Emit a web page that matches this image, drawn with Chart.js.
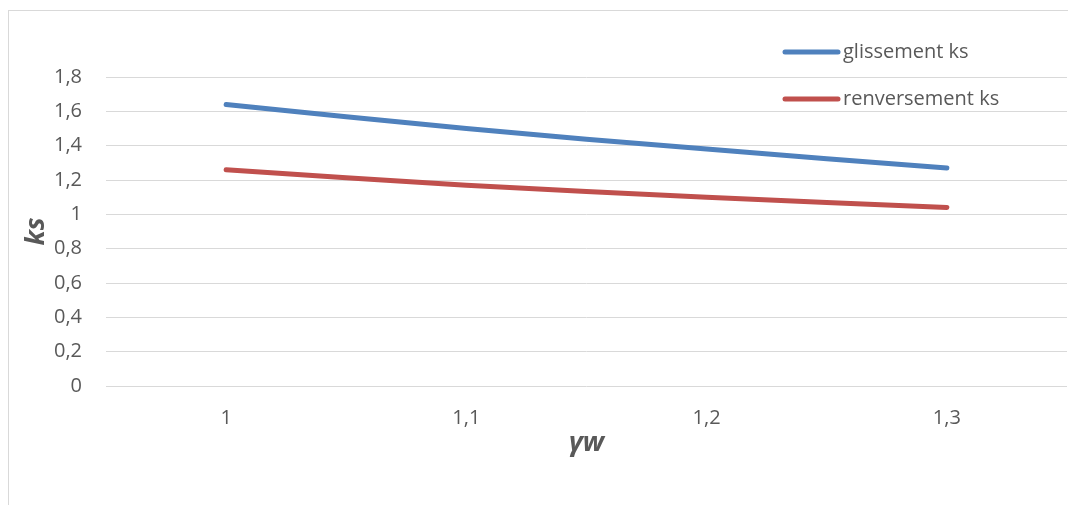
<!DOCTYPE html>
<html>
<head>
<meta charset="utf-8">
<script src="https://cdn.jsdelivr.net/npm/chart.js@4/dist/chart.umd.min.js"></script>
<style>
	html, body { margin:0; padding:0; background:#fff; overflow:hidden; }
	#wrap { position:relative; width:1068px; height:505px; }
	#frame { position:absolute; left:8px; top:10px; width:1100px; height:540px; border:1px solid #d9d9d9; }
	canvas { position:absolute; left:0; top:0; }
</style>
</head>
<body>
<div id="wrap">
	<div id="frame"></div>
	<canvas id="chart" width="1068" height="505"></canvas>
</div>
<script>
// values
const categories = ["1", "1,1", "1,2", "1,3"];
const glissement = [1.64, 1.50, 1.38, 1.27];
const renversement = [1.26, 1.17, 1.10, 1.04];
const seriesNames = ["glissement ks", "renversement ks"];

const fontFamily = "'Open Sans', 'Noto Sans', sans-serif",
	textColor = "#595959",
	gridColor = "#d9d9d9";

const fmt = function(v){
	return String(Math.round(v * 10) / 10).replace(".", ",");
};

// legend drawn inside the plot, top right, like the Excel original
const insideLegend = {
	id: "insideLegend",
	afterDraw(chart){
		const ctx = chart.ctx;
		ctx.save();
		ctx.font = "20px " + fontFamily;
		ctx.textBaseline = "middle";
		ctx.lineCap = "round";
		chart.data.datasets.forEach((ds, i) => {
			let y = 52 + i * 47;
			ctx.strokeStyle = ds.borderColor;
			ctx.lineWidth = 5;
			ctx.beginPath();
			ctx.moveTo(785, y);
			ctx.lineTo(838, y);
			ctx.stroke();
			ctx.fillStyle = textColor;
			ctx.fillText(ds.label, 843, y);
		});
		ctx.restore();
	}
};

new Chart(document.getElementById("chart"), {
	type: "line",
	data: {
		labels: categories,
		datasets: [{
			label: seriesNames[0],
			data: glissement,
			borderColor: "#4f81bd",
			backgroundColor: "#4f81bd",
			borderWidth: 5,
			borderCapStyle: "round",
			pointRadius: 0,
			tension: 0.4,
			fill: false
		}, {
			label: seriesNames[1],
			data: renversement,
			borderColor: "#c0504d",
			backgroundColor: "#c0504d",
			borderWidth: 5,
			borderCapStyle: "round",
			pointRadius: 0,
			tension: 0.4,
			fill: false
		}]
	},
	options: {
		responsive: false,
		animation: false,
		layout: { padding: { left: 10, top: 77, right: 1, bottom: 0 } },
		plugins: {
			legend: { display: false },
			tooltip: { enabled: false }
		},
		scales: {
			x: {
				offset: true,
				grid: { display: false, drawTicks: false },
				border: { display: false },
				ticks: {
					color: textColor,
					padding: 20,
					font: { family: fontFamily, size: 20 },
					maxRotation: 0
				},
				title: {
					display: true,
					text: "γw",
					color: textColor,
					padding: { top: 0, bottom: 45 },
					font: { family: fontFamily, size: 27, weight: "bold", style: "italic" }
				},
				afterFit(scale){ scale.height = 119; }
			},
			y: {
				min: 0,
				max: 1.8,
				grid: { color: gridColor, lineWidth: 1, drawTicks: false },
				border: { display: false },
				ticks: {
					stepSize: 0.2,
					color: textColor,
					padding: 24,
					font: { family: fontFamily, size: 20 },
					callback: (v) => fmt(v)
				},
				title: {
					display: true,
					text: "ks",
					color: textColor,
					padding: { top: 10, bottom: 0 },
					font: { family: fontFamily, size: 27, weight: "bold", style: "italic" }
				},
				afterFit(scale){ scale.width = 96; }
			}
		}
	},
	plugins: [insideLegend]
});
</script>
</body>
</html>
